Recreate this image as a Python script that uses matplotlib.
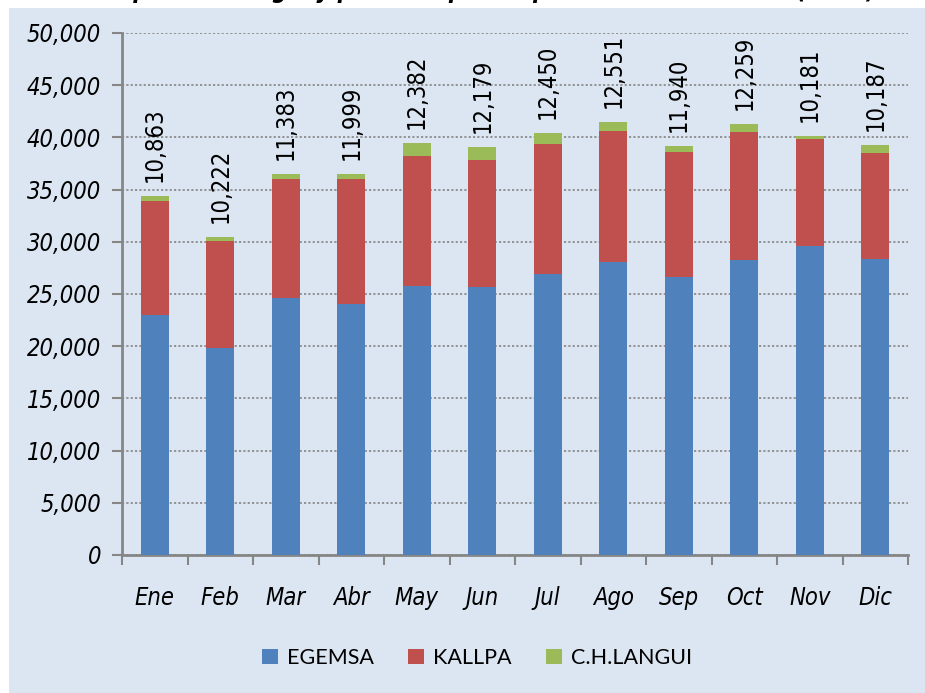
import matplotlib
matplotlib.use("Agg")
import matplotlib.pyplot as plt
import numpy as np
from matplotlib import font_manager
from matplotlib.patches import Rectangle

months = ["Ene", "Feb", "Mar", "Abr", "May", "Jun", "Jul", "Ago", "Sep", "Oct", "Nov", "Dic"]
egemsa = [23000, 19860, 24640, 24000, 25800, 25670, 26950, 28100, 26630, 28290, 29630, 28360]
kallpa = [10863, 10222, 11383, 11999, 12382, 12179, 12450, 12551, 11940, 12259, 10181, 10187]
langui = [550, 380, 480, 500, 1300, 1240, 1000, 850, 650, 700, 350, 750]
series_names = ["EGEMSA", "KALLPA", "C.H.LANGUI"]
title_text = "Compra de energía y potencia por empresa suministradora (MWh)"

BLUE, RED, GREEN = "#4F81BD", "#C0504D", "#9BBB59"
BG = "#DCE6F2"

names = {f.name for f in font_manager.fontManager.ttflist}
if "Liberation Sans Narrow" in names:
    narrow = dict(family="Liberation Sans Narrow")
else:
    narrow = dict(family="DejaVu Sans", stretch="condensed")
legend_family = "Lato" if "Lato" in names else "DejaVu Sans"

fig = plt.figure(figsize=(9.25, 6.93), dpi=100, facecolor="white")
fig.patches.append(Rectangle((9 / 925, 0), 1, 1 - 8 / 693, transform=fig.transFigure,
                             facecolor=BG, edgecolor="none", zorder=-10))
# title sits mostly above the crop, only its lower edge shows
fig.text(479 / 925, 1 + 2 / 693, title_text, ha="center", va="baseline", fontsize=17,
         fontweight="bold", style="italic", **narrow)

ax = fig.add_axes([122 / 925, 1 - 555 / 693, (908 - 122) / 925, (555 - 33) / 693])
ax.set_facecolor(BG)
ax.patch.set_alpha(0)

x = np.arange(len(months))
w = 0.42
eg = np.array(egemsa)
ka = np.array(kallpa)
la = np.array(langui)
ax.bar(x, eg, w, color=BLUE, label=series_names[0], zorder=3)
ax.bar(x, ka, w, bottom=eg, color=RED, label=series_names[1], zorder=3)
ax.bar(x, la, w, bottom=eg + ka, color=GREEN, label=series_names[2], zorder=3)

for xi, top, val in zip(x, eg + ka + la, ka):
    ax.annotate(f"{val:,}", (xi, top), xytext=(0, 10), textcoords="offset points",
                rotation=90, ha="center", va="bottom", fontsize=17, **narrow)

ax.set_xlim(-0.5, len(months) - 0.5)
ax.set_ylim(0, 50000)
ax.set_yticks(np.arange(0, 50001, 5000))
ax.set_yticklabels([f"{v:,}" for v in range(0, 50001, 5000)], fontsize=17, style="italic", **narrow)
ax.set_xticks(x)
ax.set_xticklabels(months, fontsize=17, style="italic", **narrow)
ax.set_xticks(np.arange(-0.5, len(months)), minor=True)
ax.tick_params(axis="x", which="major", length=0, pad=22)
ax.tick_params(axis="x", which="minor", length=7, width=1.5, color="#868686", direction="out")
ax.tick_params(axis="y", length=7, width=1.5, color="#868686", direction="out", pad=8)

ax.grid(axis="y", linestyle=(0, (1.2, 1.2)), color="#8C8C8C", linewidth=1.3, zorder=0)
for s in ("top", "right"):
    ax.spines[s].set_visible(False)
for s in ("left", "bottom"):
    ax.spines[s].set_color("#868686")
    ax.spines[s].set_linewidth(2)

leg = fig.legend(loc="center", bbox_to_anchor=(477 / 925, 1 - 658 / 693), ncol=3,
                 frameon=False, prop=dict(family=legend_family, size=15.5),
                 handlelength=0.75, handleheight=0.75, handletextpad=0.4, columnspacing=1.6)

fig.savefig("out.png", dpi=100, facecolor="white")
